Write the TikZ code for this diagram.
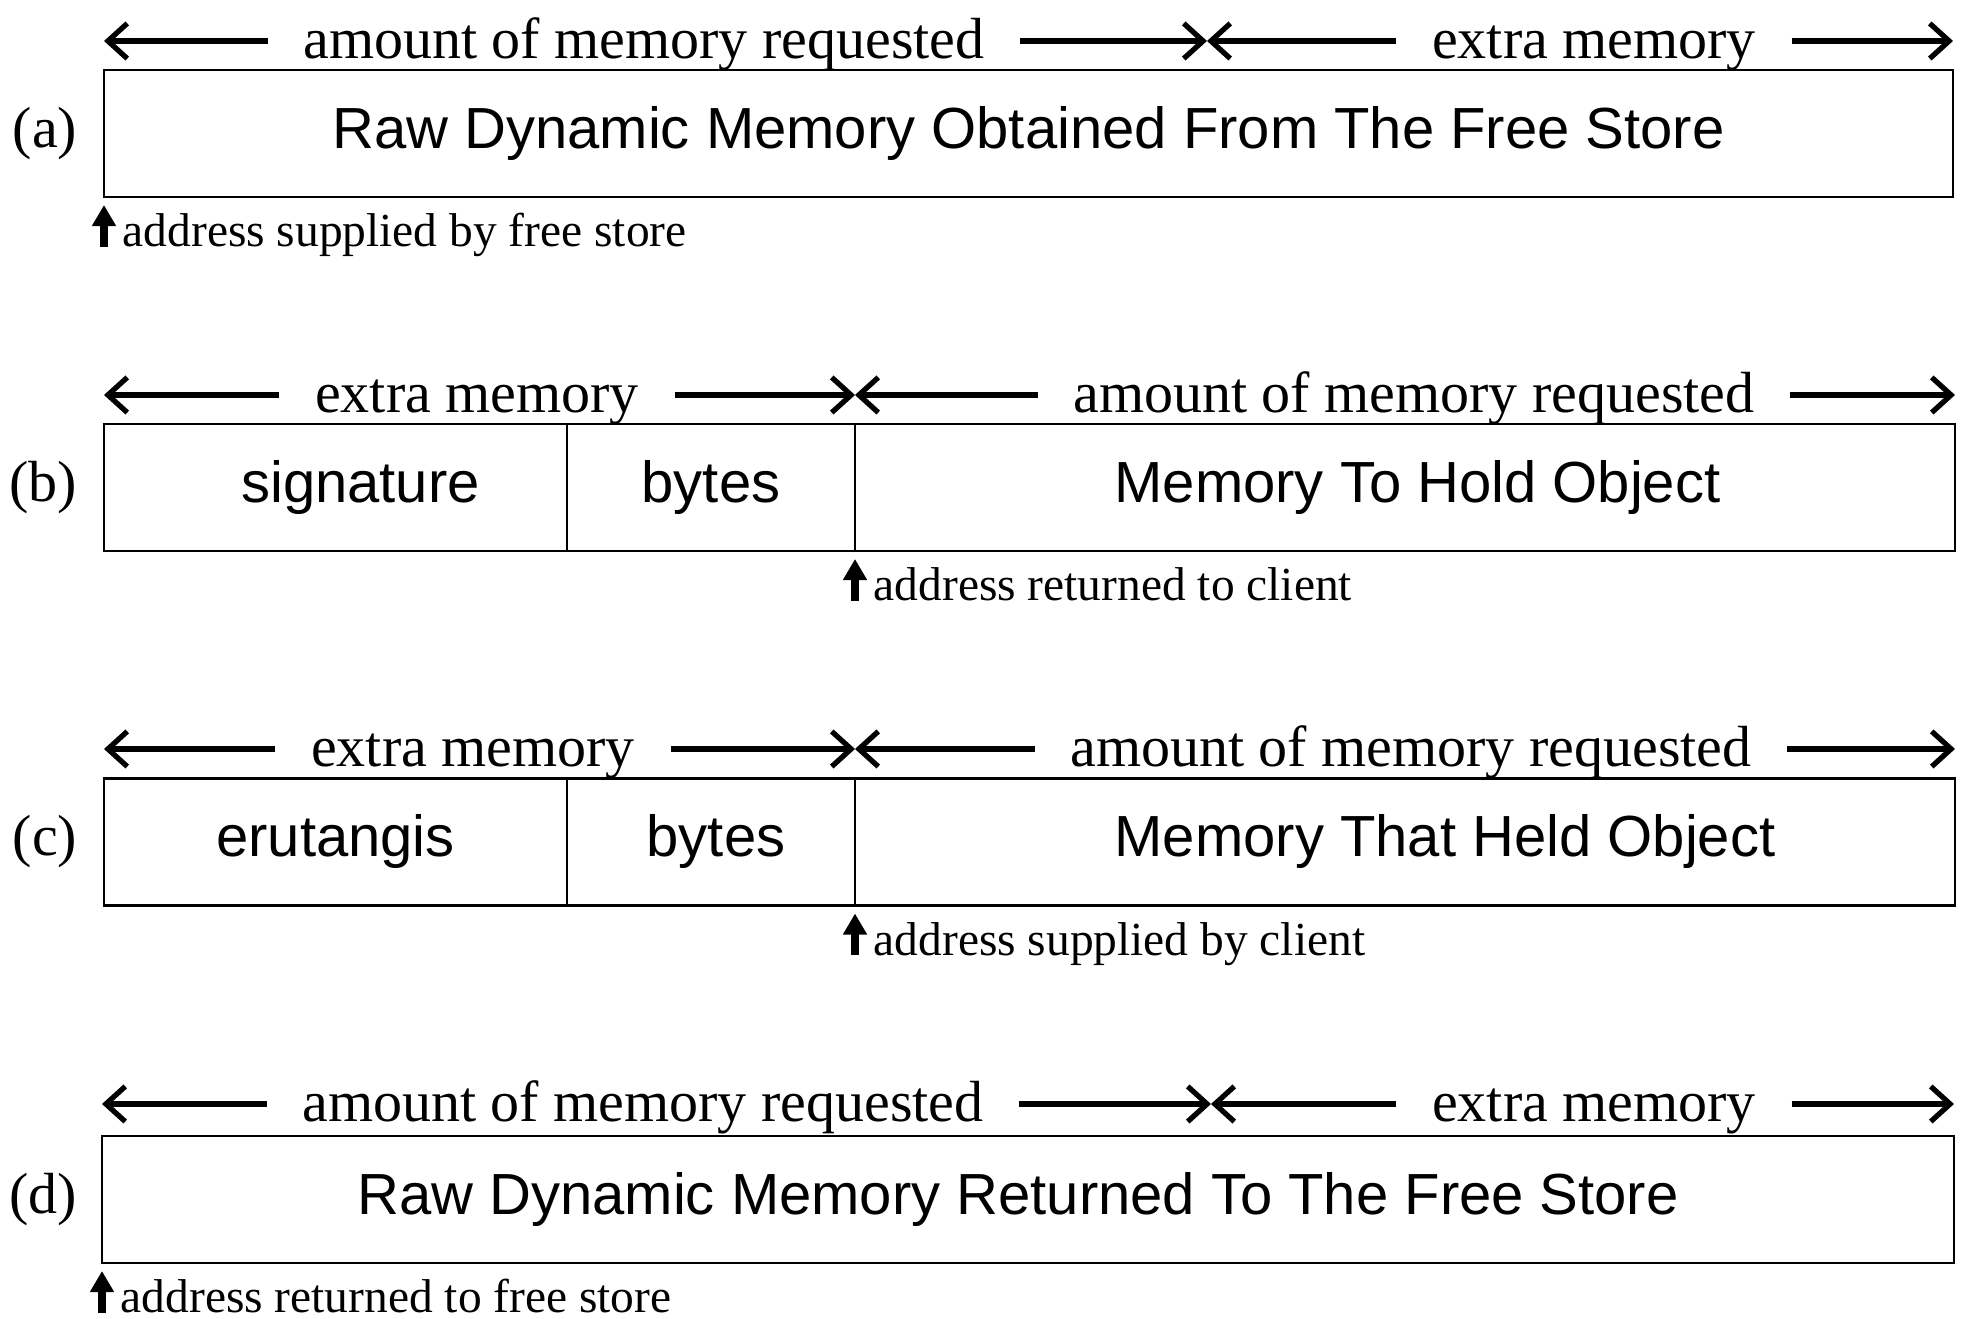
\documentclass[tikz,border=0pt]{standalone}
\usepackage{fontspec}
\setmainfont{Liberation Serif}
\setsansfont{Liberation Sans}
\usetikzlibrary{arrows.meta, positioning, calc}

\begin{document}
\begin{tikzpicture}[
    cell/.style={rectangle, draw=black, line width=0.7pt, minimum height=1.27cm,
                 inner sep=0pt, outer sep=0pt, font=\sffamily\fontsize{16.5}{20}\selectfont},
    dimtxt/.style={inner sep=0pt, text height=12pt, text depth=1.8pt,
                   font=\fontsize{16.5}{20}\selectfont},
    addrtxt/.style={inner sep=0pt, anchor=base west, font=\fontsize{13.5}{16}\selectfont},
    rowlbl/.style={inner sep=0pt, font=\fontsize{16.5}{20}\selectfont},
    dimarr/.style={-{Straight Barb[length=5.5pt, width=10pt]}, line width=1.5pt, shorten <=0.35cm},
    addrarr/.style={-{Triangle[length=6pt, width=6.5pt]}, line width=2pt}
]
\useasboundingbox (0,0) rectangle (19.68,13.19);

\node[cell, minimum width=18.49cm] (rawA) at (10.285,11.855) {Raw Dynamic Memory Obtained From The Free Store};
\node[rowlbl, left=0.26cm of rawA] (lblA) {(a)};
\coordinate (splitA) at (12.07,12.49);
\node[dimtxt] (amtA) at (6.44,12.78) {amount of memory requested};
\node[dimtxt] (xtrA) at (15.94,12.78) {extra memory};
\draw[dimarr] (amtA.west) -- (amtA.west -| rawA.west);
\draw[dimarr] (amtA.east) -- (amtA.east -| splitA);
\draw[dimarr] (xtrA.west) -- (xtrA.west -| splitA);
\draw[dimarr] (xtrA.east) -- (xtrA.east -| rawA.east);
\node[addrtxt] (addrA) at ($(rawA.south west)+(0.18,-0.5)$) {address supplied by free store};
\draw[addrarr] (addrA.base west -| rawA.west) -- ($(rawA.south west)+(0,-0.08)$);

\node[cell, minimum width=4.63cm] (sigB) at (3.355,8.315) {\hspace*{0.5cm}signature};
\node[cell, minimum width=2.88cm, right=0pt of sigB] (bytesB) {bytes};
\node[cell, minimum width=11.0cm, right=0pt of bytesB] (objB) {\hspace*{0.25cm}Memory To Hold Object};
\node[rowlbl, left=0.26cm of sigB] (lblB) {(b)};
\node[dimtxt] (xtrB) at (4.77,9.24) {extra memory};
\node[dimtxt] (amtB) at (14.14,9.24) {amount of memory requested};
\draw[dimarr] (xtrB.west) -- (xtrB.west -| sigB.west);
\draw[dimarr] (xtrB.east) -- (xtrB.east -| bytesB.east);
\draw[dimarr] (amtB.west) -- (amtB.west -| objB.west);
\draw[dimarr] (amtB.east) -- (amtB.east -| objB.east);
\node[addrtxt] (addrB) at ($(objB.south west)+(0.18,-0.5)$) {address returned to client};
\draw[addrarr] (addrB.base west -| objB.west) -- ($(objB.south west)+(0,-0.08)$);

\node[cell, minimum width=4.63cm] (sigC) at (3.355,4.77) {erutangis};
\node[cell, minimum width=2.88cm, right=0pt of sigC] (bytesC) {\hspace*{0.1cm}bytes};
\node[cell, minimum width=11.0cm, right=0pt of bytesC] (objC) {\hspace*{0.8cm}Memory That Held Object};
\node[rowlbl, left=0.26cm of sigC] (lblC) {(c)};
\node[dimtxt] (xtrC) at (4.73,5.70) {extra memory};
\node[dimtxt] (amtC) at (14.11,5.70) {amount of memory requested};
\draw[dimarr] (xtrC.west) -- (xtrC.west -| sigC.west);
\draw[dimarr] (xtrC.east) -- (xtrC.east -| bytesC.east);
\draw[dimarr] (amtC.west) -- (amtC.west -| objC.west);
\draw[dimarr] (amtC.east) -- (amtC.east -| objC.east);
\node[addrtxt] (addrC) at ($(objC.south west)+(0.18,-0.5)$) {address supplied by client};
\draw[addrarr] (addrC.base west -| objC.west) -- ($(objC.south west)+(0,-0.08)$);

\node[cell, minimum width=18.52cm] (rawD) at (10.28,1.195) {Raw Dynamic Memory Returned To The Free Store\hspace*{0.2cm}};
\node[rowlbl, left=0.24cm of rawD] (lblD) {(d)};
\coordinate (splitD) at (12.11,1.83);
\node[dimtxt] (amtD) at (6.43,2.15) {amount of memory requested};
\node[dimtxt] (xtrD) at (15.94,2.15) {extra memory};
\draw[dimarr] (amtD.west) -- (amtD.west -| rawD.west);
\draw[dimarr] (amtD.east) -- (amtD.east -| splitD);
\draw[dimarr] (xtrD.west) -- (xtrD.west -| splitD);
\draw[dimarr] (xtrD.east) -- (xtrD.east -| rawD.east);
\node[addrtxt] (addrD) at ($(rawD.south west)+(0.18,-0.5)$) {address returned to free store};
\draw[addrarr] (addrD.base west -| rawD.west) -- ($(rawD.south west)+(0,-0.08)$);
\end{tikzpicture}
\end{document}
